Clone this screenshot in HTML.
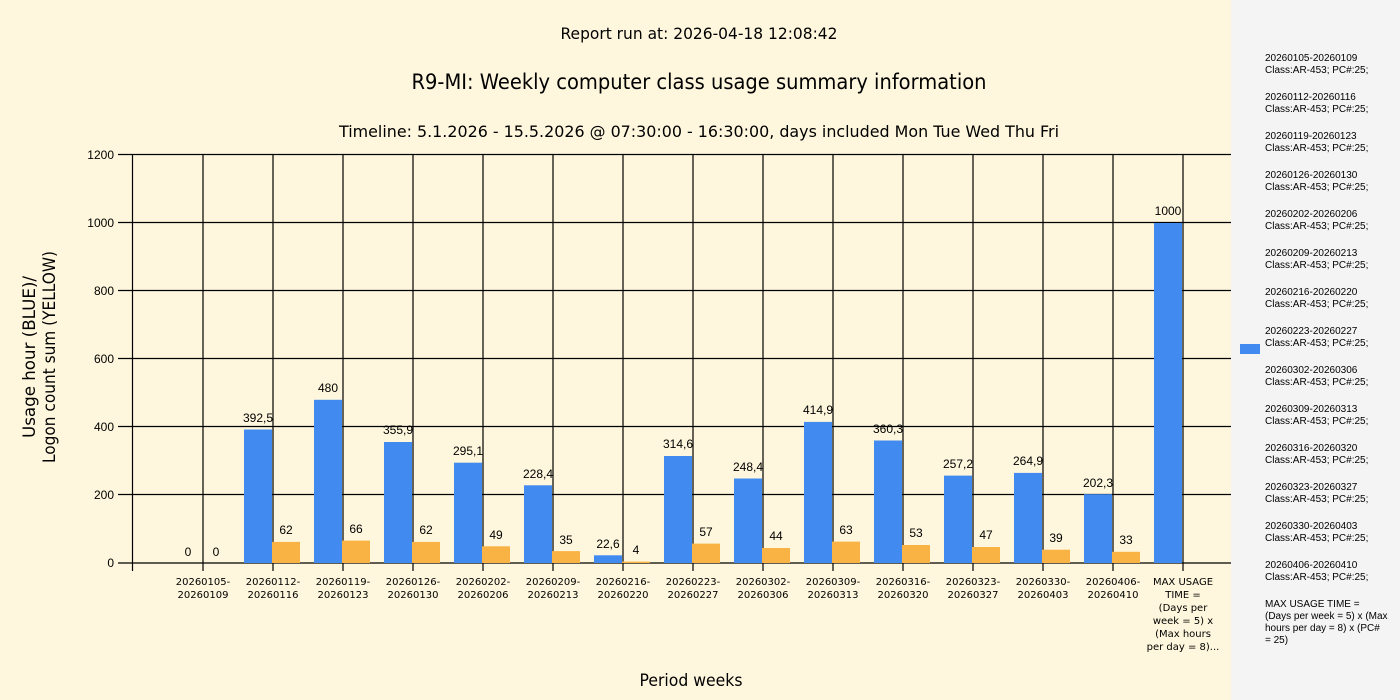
<!DOCTYPE html>
<html><head><meta charset="utf-8"><style>
html,body{margin:0;padding:0;width:1400px;height:700px;overflow:hidden;background:#fef7dd}
svg{display:block;font-family:"DejaVu Sans","Liberation Sans",sans-serif}
</style></head><body>
<svg width="1400" height="700" viewBox="0 0 1400 700" xmlns="http://www.w3.org/2000/svg">
<rect x="0" y="0" width="1400" height="700" fill="#fef7dd"/>
<rect x="1231" y="0" width="169" height="700" fill="#f4f4f4"/>
<g font-size="16" text-anchor="middle" fill="#000">
<text x="699" y="39" textLength="277" lengthAdjust="spacingAndGlyphs">Report run at: 2026-04-18 12:08:42</text>
<text x="699" y="89" font-size="21" textLength="575" lengthAdjust="spacingAndGlyphs">R9-MI: Weekly computer class usage summary information</text>
<text x="699" y="137" textLength="720" lengthAdjust="spacingAndGlyphs">Timeline:  5.1.2026  - 15.5.2026  @  07:30:00 -  16:30:00, days included Mon Tue Wed Thu Fri</text>
<text x="691" y="686" font-size="17" textLength="103" lengthAdjust="spacingAndGlyphs">Period weeks</text>
</g>
<g font-size="17" text-anchor="middle" transform="translate(0,0)">
<text transform="translate(35,357) rotate(-90)" textLength="162" lengthAdjust="spacingAndGlyphs">Usage hour (BLUE)/</text>
<text transform="translate(55,357) rotate(-90)" textLength="212" lengthAdjust="spacingAndGlyphs">Logon count sum (YELLOW)</text>
</g>
<g stroke="#000" stroke-width="1.2">
<line x1="118" y1="154.5" x2="1231" y2="154.5"/>
<line x1="118" y1="222.5" x2="1231" y2="222.5"/>
<line x1="118" y1="290.5" x2="1231" y2="290.5"/>
<line x1="118" y1="358.5" x2="1231" y2="358.5"/>
<line x1="118" y1="426.5" x2="1231" y2="426.5"/>
<line x1="118" y1="494.5" x2="1231" y2="494.5"/>
<line x1="118" y1="563" x2="1231" y2="563"/>
<line x1="132.5" y1="154" x2="132.5" y2="571"/>
<line x1="203" y1="154" x2="203" y2="571"/><line x1="273" y1="154" x2="273" y2="571"/>
<line x1="343" y1="154" x2="343" y2="571"/><line x1="413" y1="154" x2="413" y2="571"/>
<line x1="483" y1="154" x2="483" y2="571"/><line x1="553" y1="154" x2="553" y2="571"/>
<line x1="623" y1="154" x2="623" y2="571"/><line x1="693" y1="154" x2="693" y2="571"/>
<line x1="763" y1="154" x2="763" y2="571"/><line x1="833" y1="154" x2="833" y2="571"/>
<line x1="903" y1="154" x2="903" y2="571"/><line x1="973" y1="154" x2="973" y2="571"/>
<line x1="1043" y1="154" x2="1043" y2="571"/><line x1="1113" y1="154" x2="1113" y2="571"/>
<line x1="1183" y1="154" x2="1183" y2="571"/>
</g>
<g font-size="12" text-anchor="end" font-family="Liberation Sans,sans-serif">
<text x="114" y="159">1200</text><text x="114" y="227">1000</text><text x="114" y="295">800</text>
<text x="114" y="363">600</text><text x="114" y="431">400</text><text x="114" y="499">200</text><text x="114" y="567">0</text>
</g>
<g fill="#418af0">
<rect x="244" y="429.5" width="28" height="133.5"/><rect x="314" y="399.8" width="28" height="163.2"/>
<rect x="384" y="442" width="28" height="121"/><rect x="454" y="462.7" width="28" height="100.3"/>
<rect x="524" y="485.3" width="28" height="77.7"/><rect x="594" y="555.3" width="28" height="7.7"/>
<rect x="664" y="456" width="28" height="107"/><rect x="734" y="478.5" width="28" height="84.5"/>
<rect x="804" y="421.9" width="28" height="141.1"/><rect x="874" y="440.5" width="28" height="122.5"/>
<rect x="944" y="475.6" width="28" height="87.4"/><rect x="1014" y="472.9" width="28" height="90.1"/>
<rect x="1084" y="494.2" width="28" height="68.8"/><rect x="1154" y="223" width="28" height="340"/>
<rect x="1240" y="344" width="20" height="10"/>
</g>
<g fill="#f9b244">
<rect x="272" y="541.9" width="28" height="21.1"/><rect x="342" y="540.6" width="28" height="22.4"/>
<rect x="412" y="541.9" width="28" height="21.1"/><rect x="482" y="546.3" width="28" height="16.7"/>
<rect x="552" y="551.1" width="28" height="11.9"/><rect x="622" y="561.6" width="28" height="1.4"/>
<rect x="692" y="543.6" width="28" height="19.4"/><rect x="762" y="548" width="28" height="15"/>
<rect x="832" y="541.6" width="28" height="21.4"/><rect x="902" y="545" width="28" height="18"/>
<rect x="972" y="547" width="28" height="16"/><rect x="1042" y="549.7" width="28" height="13.3"/>
<rect x="1112" y="551.8" width="28" height="11.2"/>
</g>
<g font-size="12" text-anchor="middle" font-family="Liberation Sans,sans-serif">
<text x="188" y="556">0</text><text x="258" y="422">392,5</text><text x="328" y="392">480</text>
<text x="398" y="434">355,9</text><text x="468" y="455">295,1</text><text x="538" y="478">228,4</text>
<text x="608" y="548">22,6</text><text x="678" y="448">314,6</text><text x="748" y="471">248,4</text>
<text x="818" y="414">414,9</text><text x="888" y="433">360,3</text><text x="958" y="468">257,2</text>
<text x="1028" y="465">264,9</text><text x="1098" y="487">202,3</text><text x="1168" y="215">1000</text>
<text x="216" y="556">0</text><text x="286" y="534">62</text><text x="356" y="533">66</text>
<text x="426" y="534">62</text><text x="496" y="539">49</text><text x="566" y="544">35</text>
<text x="636" y="554">4</text><text x="706" y="536">57</text><text x="776" y="540">44</text>
<text x="846" y="534">63</text><text x="916" y="537">53</text><text x="986" y="539">47</text>
<text x="1056" y="542">39</text><text x="1126" y="544">33</text>
</g>
<g font-size="10" text-anchor="middle">
<text x="203" y="585">20260105-</text><text x="203" y="598">20260109</text>
<text x="273" y="585">20260112-</text><text x="273" y="598">20260116</text>
<text x="343" y="585">20260119-</text><text x="343" y="598">20260123</text>
<text x="413" y="585">20260126-</text><text x="413" y="598">20260130</text>
<text x="483" y="585">20260202-</text><text x="483" y="598">20260206</text>
<text x="553" y="585">20260209-</text><text x="553" y="598">20260213</text>
<text x="623" y="585">20260216-</text><text x="623" y="598">20260220</text>
<text x="693" y="585">20260223-</text><text x="693" y="598">20260227</text>
<text x="763" y="585">20260302-</text><text x="763" y="598">20260306</text>
<text x="833" y="585">20260309-</text><text x="833" y="598">20260313</text>
<text x="903" y="585">20260316-</text><text x="903" y="598">20260320</text>
<text x="973" y="585">20260323-</text><text x="973" y="598">20260327</text>
<text x="1043" y="585">20260330-</text><text x="1043" y="598">20260403</text>
<text x="1113" y="585">20260406-</text><text x="1113" y="598">20260410</text>
<text x="1183" y="585">MAX USAGE</text><text x="1183" y="598">TIME =</text>
<text x="1183" y="611">(Days per</text><text x="1183" y="624">week = 5) x</text>
<text x="1183" y="637">(Max hours</text><text x="1183" y="650">per day = 8)...</text>
</g>
<g font-size="10" font-family="Liberation Sans,sans-serif">
<text x="1265" y="61">20260105-20260109</text><text x="1265" y="73">Class:AR-453; PC#:25;</text>
<text x="1265" y="100">20260112-20260116</text><text x="1265" y="112">Class:AR-453; PC#:25;</text>
<text x="1265" y="139">20260119-20260123</text><text x="1265" y="151">Class:AR-453; PC#:25;</text>
<text x="1265" y="178">20260126-20260130</text><text x="1265" y="190">Class:AR-453; PC#:25;</text>
<text x="1265" y="217">20260202-20260206</text><text x="1265" y="229">Class:AR-453; PC#:25;</text>
<text x="1265" y="256">20260209-20260213</text><text x="1265" y="268">Class:AR-453; PC#:25;</text>
<text x="1265" y="295">20260216-20260220</text><text x="1265" y="307">Class:AR-453; PC#:25;</text>
<text x="1265" y="334">20260223-20260227</text><text x="1265" y="346">Class:AR-453; PC#:25;</text>
<text x="1265" y="373">20260302-20260306</text><text x="1265" y="385">Class:AR-453; PC#:25;</text>
<text x="1265" y="412">20260309-20260313</text><text x="1265" y="424">Class:AR-453; PC#:25;</text>
<text x="1265" y="451">20260316-20260320</text><text x="1265" y="463">Class:AR-453; PC#:25;</text>
<text x="1265" y="490">20260323-20260327</text><text x="1265" y="502">Class:AR-453; PC#:25;</text>
<text x="1265" y="529">20260330-20260403</text><text x="1265" y="541">Class:AR-453; PC#:25;</text>
<text x="1265" y="568">20260406-20260410</text><text x="1265" y="580">Class:AR-453; PC#:25;</text>
<text x="1265" y="607">MAX USAGE TIME =</text><text x="1265" y="619"> (Days per week = 5) x (Max</text>
<text x="1265" y="631">hours per day = 8) x (PC#</text><text x="1265" y="643">= 25)</text>
</g>
</svg>
</body></html>
